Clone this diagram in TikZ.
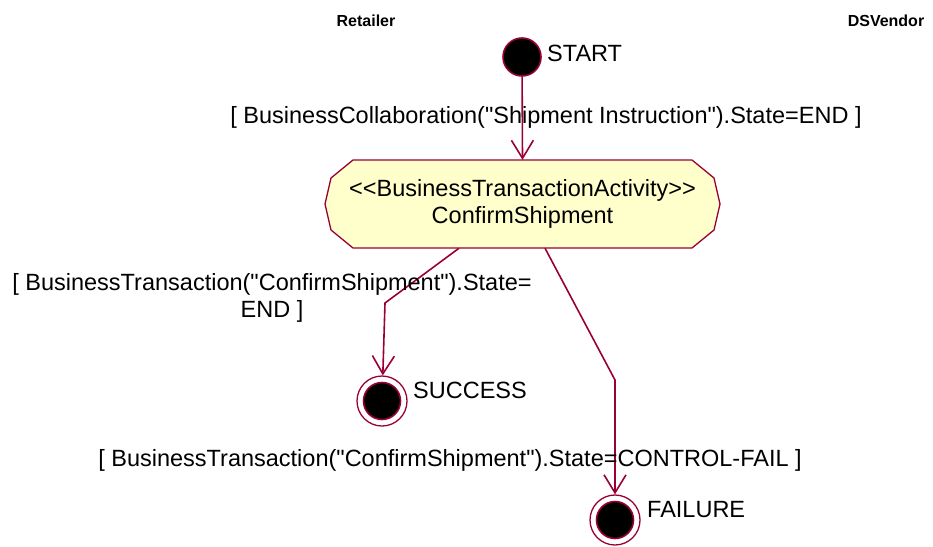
\documentclass[tikz,border=0pt]{standalone}
\usepackage{fontspec}
\setmainfont{Liberation Sans}[Ligatures=TeXOff]
\usetikzlibrary{positioning,arrows.meta}

\definecolor{rosered}{RGB}{153,0,51}
\definecolor{actyellow}{RGB}{255,255,204}

\begin{document}
\begin{tikzpicture}[x=1pt,y=-1pt,
  lbl/.style={inner sep=0pt, font=\fontsize{23.5}{27}\selectfont, align=center},
  swim/.style={inner sep=0pt, font=\fontsize{16}{18}\selectfont\bfseries},
  trans/.style={draw=rosered, line width=1.6, -{Straight Barb[length=18pt,width=22pt,line width=1.6pt]}},
  startdot/.style={circle, fill=black, draw=rosered, line width=1.6, minimum size=38pt, inner sep=0pt},
  endring/.style={circle, draw=rosered, line width=1.3, fill=white, minimum size=50pt, inner sep=0pt},
  enddot/.style={circle, fill=black, draw=rosered, line width=1.6, minimum size=37pt, inner sep=0pt}]
\useasboundingbox (0,0) rectangle (933,546);

% swimlanes
\node[swim] (retailer) at (366,21) {Retailer};
\node[swim] (vendor) at (886,21) {DSVendor};

% start state
\node[startdot] (start) at (522,57) {};
\node[lbl, anchor=west] (startlbl) at (547,53) {START};

% activity
\draw[draw=rosered, line width=1.3, fill=actyellow] (353,160) -- (692,160) -- (714,178) -- (720,204) -- (714,230) -- (692,248)
  -- (353,248) -- (331,230) -- (325,204) -- (331,178) -- cycle;
\node[lbl, minimum width=395pt, minimum height=88pt] (act) at (522.5,204) {<<BusinessTransactionActivity>>\\ConfirmShipment};

% end states
\node[endring] (success) at (382,401) {};
\node[enddot] (successdot) at (success.center) {};
\node[lbl, anchor=west] (successlbl) at (413,390) {SUCCESS};
\node[endring] (failure) at (615,520) {};
\node[enddot] (failuredot) at (failure.center) {};
\node[lbl, anchor=west] (failurelbl) at (647,510) {FAILURE};

% transitions
\coordinate (sbend) at (385,303);
\coordinate (fbend) at (615,380);
\draw[trans] (start) -- (act.north);
\draw[trans] ([xshift=-63.5pt]act.south) -- (sbend) -- (success);
\draw[trans] ([xshift=22.5pt]act.south) -- (fbend) -- (failure);

% guards
\node[lbl] (guard1) at (546,117) {[ BusinessCollaboration("Shipment Instruction").State=END ]};
\node[lbl] (guard2) at (272,298) {[ BusinessTransaction("ConfirmShipment").State=\\END ]};
\node[lbl] (guard3) at (450,460) {[ BusinessTransaction("ConfirmShipment").State=CONTROL-FAIL ]};
\end{tikzpicture}
\end{document}
